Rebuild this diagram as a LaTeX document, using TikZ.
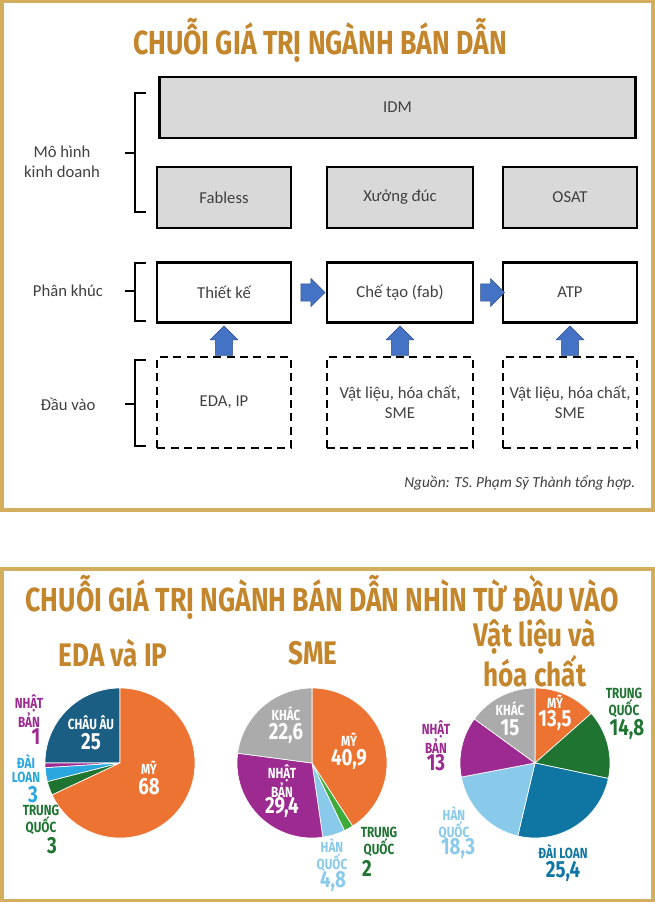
\documentclass[tikz,border=0pt]{standalone}
\usepackage{fontspec}
\setmainfont{Carlito}
\newfontfamily\condfont[FakeStretch=0.8]{Fira Sans}
\usetikzlibrary{arrows.meta,shapes.arrows,calc}
\definecolor{gold}{HTML}{D2AE5E}
\definecolor{titlegold}{HTML}{C4862C}
\definecolor{boxgrey}{HTML}{D9D9D9}
\definecolor{txtgrey}{HTML}{404040}
\definecolor{arrowblue}{HTML}{4472C4}
\definecolor{cOrange}{HTML}{EC7332}
\definecolor{cNavy}{HTML}{1B5E84}
\definecolor{cPurple}{HTML}{9C2A90}
\definecolor{cSky}{HTML}{2AA7DE}
\definecolor{cGreen}{HTML}{1F7432}
\definecolor{cLime}{HTML}{3EAA37}
\definecolor{cPale}{HTML}{89C9EA}
\definecolor{cGrey}{HTML}{ABABAB}
\definecolor{cTeal}{HTML}{0F76A3}
\tikzset{
  frame/.style={draw=gold,line width=3pt},
  model/.style={draw=black,line width=1.6pt,fill=boxgrey,text=txtgrey,font=\fontsize{12.5}{14}\selectfont},
  segment/.style={draw=black,line width=1.6pt,fill=white,text=txtgrey,font=\fontsize{12.5}{14}\selectfont},
  input/.style={draw=black,line width=1.6pt,dash pattern=on 6pt off 4pt,text=txtgrey,align=center,font=\fontsize{12.5}{15}\selectfont},
  rowlabel/.style={text=txtgrey,align=center,font=\fontsize{12.5}{15}\selectfont},
  bigtitle/.style={text=titlegold,font=\condfont\bfseries\fontsize{25}{28}\selectfont},
  pietitle/.style={text=titlegold,align=center,font=\condfont\bfseries\fontsize{24.5}{20.5}\selectfont},
  flow/.style={single arrow,fill=arrowblue,draw=arrowblue!70!black,line width=0.4pt,minimum width=21pt,single arrow head extend=3pt,inner sep=4.5pt},
  sm/.style={font=\condfont\bfseries\fontsize{11}{10.5}\selectfont,align=center},
  nm/.style={font=\condfont\bfseries\fontsize{17.5}{19}\selectfont}
}
\newcommand{\slice}[4]{\fill[#4,draw=white,line width=0.5pt] (#1) -- ++(#2:75) arc (#2:#3:75) -- cycle;}
\newcommand{\rowbrace}[3]{\draw[line width=1.3pt] (146,#1) -- (135,#1) -- (135,#3) -- (146,#3) (135,#2) -- (125,#2);}
\begin{document}
\begin{tikzpicture}[x=0.75pt,y=0.75pt]
\useasboundingbox (0,0) rectangle (654,-902);
\fill[white] (0,0) rectangle (654,-902);
% frames
\draw[frame] (1.5,-1.5) rectangle (652.5,-510);
\draw[frame] (1.5,-569) rectangle (652.5,-900.5);
\node[bigtitle] (title) at (320,-40) {CHUỖI GIÁ TRỊ NGÀNH BÁN DẪN};
% business models
\node[model,minimum width=357pt,minimum height=46pt] (idm) at (397.5,-107.5) {IDM};
\node[model,minimum width=100pt,minimum height=46pt] (fabless) at (224,-197.5) {Fabless};
\node[model,minimum width=110pt,minimum height=46pt] (foundry) at (400,-197.5) {Xưởng đúc};
\node[model,minimum width=100pt,minimum height=46pt] (osat) at (570,-197.5) {OSAT};
% segments
\node[segment,minimum width=100pt,minimum height=45pt] (design) at (224,-292.5) {Thiết kế};
\node[segment,minimum width=110pt,minimum height=45pt] (fab) at (400,-292.5) {Chế tạo (fab)};
\node[segment,minimum width=100pt,minimum height=45pt] (atp) at (570,-292.5) {ATP};
% inputs
\node[input,minimum width=100pt,minimum height=68pt] (eda) at (224,-402.5) {EDA, IP};
\node[input,minimum width=110pt,minimum height=68pt] (mat1) at (400,-402.5) {Vật liệu, hóa chất,\\SME};
\node[input,minimum width=100pt,minimum height=68pt] (mat2) at (570,-402.5) {Vật liệu, hóa chất,\\SME};
% arrows
\node[flow,minimum height=18pt] (ar1) at ($(design.east)!0.5!(fab.west)$) {};
\node[flow,minimum height=18pt] (ar2) at ($(fab.east)!0.5!(atp.west)$) {};
\foreach \b in {design,fab,atp}
  \node[flow,rotate=90,anchor=west,minimum height=22pt] at ([yshift=-24pt]\b.south) {};
% braces and labels
\rowbrace{-93}{-153}{-212}
\rowbrace{-263}{-291}{-321}
\rowbrace{-360}{-404}{-446}
\node[rowlabel] (lmodel) at (62,-162) {Mô hình\\kinh doanh};
\node[rowlabel] (lseg) at (68,-291) {Phân khúc};
\node[rowlabel] (lin) at (68,-404) {Đầu vào};
\node[anchor=east,text=txtgrey,font=\itshape\fontsize{11.5}{13}\selectfont] (src) at (640,-483) {Nguồn: TS. Phạm Sỹ Thành tổng hợp.};
% lower panel
\node[bigtitle] (title2) at (322,-597) {CHUỖI GIÁ TRỊ NGÀNH BÁN DẪN NHÌN TỪ ĐẦU VÀO};
\node[pietitle] (t1) at (113,-653) {EDA và IP};
\node[pietitle] (t2) at (313,-653) {SME};
\node[pietitle] (t3) at (535,-653) {Vật liệu và\\hóa chất};
\coordinate (p1) at (120,-763);
\coordinate (p2) at (312,-763);
\coordinate (p3) at (535,-763);
\slice{p1}{90}{180}{cNavy}
\slice{p1}{180}{183.6}{cPurple}
\slice{p1}{183.6}{194.4}{cSky}
\slice{p1}{194.4}{205.2}{cGreen}
\slice{p1}{205.2}{450}{cOrange}
\slice{p2}{-57.2}{90}{cOrange}
\slice{p2}{-64.4}{-57.2}{cLime}
\slice{p2}{-81.7}{-64.4}{cPale}
\slice{p2}{-187.5}{-81.7}{cPurple}
\slice{p2}{-270}{-187.5}{cGrey}
\slice{p3}{41.4}{90}{cOrange}
\slice{p3}{-11.9}{41.4}{cGreen}
\slice{p3}{-103.3}{-11.9}{cTeal}
\slice{p3}{-169.2}{-103.3}{cPale}
\slice{p3}{-216}{-169.2}{cPurple}
\slice{p3}{-270}{-216}{cGrey}
% pie 1 labels
\node[sm,white] (eu) at (91,-723) {CHÂU ÂU};
\node[nm,white] (euv) at (91,-742) {25};
\node[sm,white] (us1) at (149,-768) {MỸ};
\node[nm,white] (us1v) at (149,-787) {68};
\node[sm,cPurple] (jp1) at (29,-711) {NHẬT\\BẢN};
\node[nm,cPurple] (jp1v) at (36,-737) {1};
\node[sm,cSky] (tw1) at (26,-769) {ĐÀI\\LOAN};
\node[nm,cSky] (tw1v) at (33,-795) {3};
\node[sm,cGreen] (cn1) at (41,-820) {TRUNG\\QUỐC};
\node[nm,cGreen] (cn1v) at (52,-846) {3};
% pie 2 labels
\node[sm,white] (ot2) at (286,-714) {KHÁC};
\node[nm,white] (ot2v) at (286,-734) {22,6};
\node[sm,white] (us2) at (349,-740) {MỸ};
\node[nm,white] (us2v) at (349,-759) {40,9};
\node[sm,white] (jp2) at (282,-781) {NHẬT\\BẢN};
\node[nm,white] (jp2v) at (282,-807) {29,4};
\node[sm,cPale] (kr2) at (332,-855) {HÀN\\QUỐC};
\node[nm,cPale] (kr2v) at (333,-881) {4,8};
\node[sm,cGreen] (cn2) at (379,-842) {TRUNG\\QUỐC};
\node[nm,cGreen] (cn2v) at (367,-868) {2};
% pie 3 labels
\node[sm,white] (ot3) at (510,-709) {KHÁC};
\node[nm,white] (ot3v) at (510,-728) {15};
\node[sm,white] (us3) at (555,-702) {MỸ};
\node[nm,white] (us3v) at (555,-721) {13,5};
\node[sm,cGreen] (cn3) at (624,-703) {TRUNG\\QUỐC};
\node[nm,cGreen] (cn3v) at (627,-729) {14,8};
\node[sm,cPurple] (jp3) at (436,-737) {NHẬT\\BẢN};
\node[nm,cPurple] (jp3v) at (436,-763) {13};
\node[sm,cPale] (kr3) at (454,-823) {HÀN\\QUỐC};
\node[nm,cPale] (kr3v) at (458,-849) {18,3};
\node[sm,cTeal] (tw3) at (563,-852) {ĐÀI LOAN};
\node[nm,cTeal] (tw3v) at (563,-871) {25,4};
\end{tikzpicture}
\end{document}
